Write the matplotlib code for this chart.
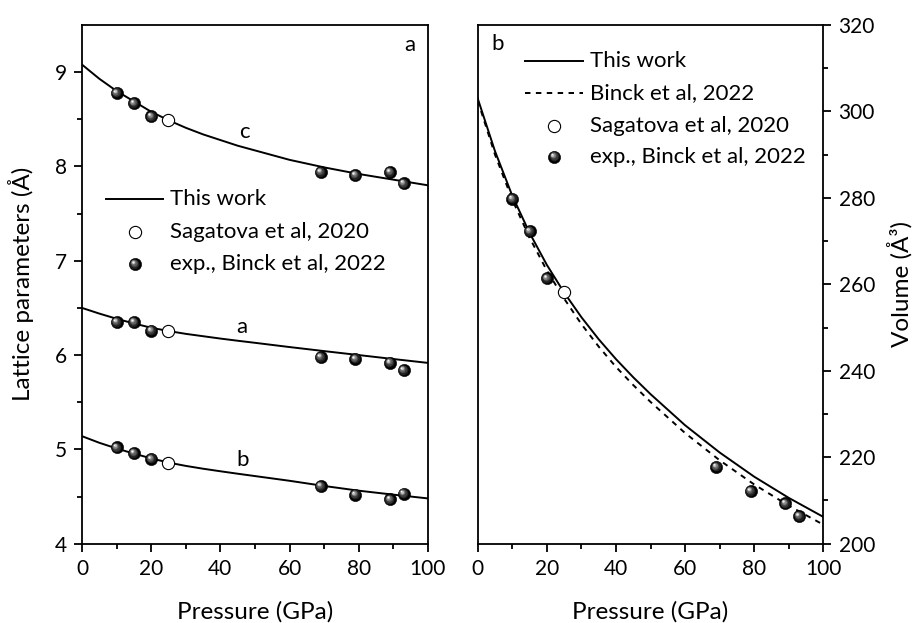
import numpy as np
import matplotlib
matplotlib.use("Agg")
import matplotlib.pyplot as plt
from matplotlib.transforms import offset_copy

plt.rcParams['font.family'] = ['Lato', 'DejaVu Sans']

# calculated curves (this work), pressure grid in GPa
p_calc = [0, 5, 10, 15, 20, 25, 30, 35, 40, 45, 50, 60, 70, 80, 90, 100]
c_calc = [9.08, 8.93, 8.80, 8.69, 8.58, 8.49, 8.41, 8.34, 8.28, 8.22, 8.17, 8.07, 7.99, 7.92, 7.86, 7.80]
a_calc = [6.50, 6.44, 6.385, 6.335, 6.29, 6.255, 6.225, 6.20, 6.175, 6.152, 6.13, 6.085, 6.042, 6.00, 5.958, 5.917]
b_calc = [5.14, 5.07, 5.01, 4.955, 4.905, 4.86, 4.825, 4.795, 4.768, 4.742, 4.717, 4.667, 4.612, 4.562, 4.52, 4.48]
v_calc = [303.0, 290.8, 280.5, 271.9, 264.5, 258.1, 252.4, 247.3, 242.7, 238.5, 234.6, 227.4, 221.1, 215.5, 210.6, 206.2]
# EoS fit from Binck et al, 2022
v_binck = [302.5, 290.0, 279.6, 270.8, 263.2, 256.7, 250.8, 245.6, 240.9, 236.7, 232.8, 225.6, 219.3, 213.7, 208.8, 204.4]

# experiment, Binck et al, 2022
p_exp = [10, 15, 20, 69, 79, 89, 93]
c_exp = [8.78, 8.67, 8.53, 7.94, 7.91, 7.94, 7.82]
a_exp = [6.35, 6.35, 6.26, 5.98, 5.96, 5.92, 5.84]
b_exp = [5.02, 4.96, 4.90, 4.61, 4.52, 4.47, 4.53]
v_exp = [279.8, 272.3, 261.4, 217.8, 212.2, 209.3, 206.4]

# Sagatova et al, 2020
p_sag = [25]
c_sag = [8.49]
a_sag = [6.26]
b_sag = [4.86]
v_sag = [258.2]

MS = 8.8
LW = 1.4
FS_TICK = 15
FS_TEXT = 16
FS_LABEL = 17.5


def spheres(ax, x, y, transform=None, ms=MS, z=5):
    # black ball with a soft highlight toward the upper left
    base = ax.transData if transform is None else transform
    ax.plot(x, y, 'o', ms=ms, mfc='black', mec='black', mew=0.4, ls='none',
            transform=base, zorder=z, clip_on=False)
    layers = [(0.80, '#1e1e1e', 0.3), (0.64, '#3a3a3a', 0.6), (0.50, '#5e5e5e', 0.9),
              (0.36, '#8c8c8c', 1.2), (0.24, '#c4c4c4', 1.45), (0.13, '#f6f6f6', 1.65)]
    for frac, shade, off in layers:
        tr = offset_copy(base, fig=ax.figure, x=-off, y=off, units='points')
        ax.plot(x, y, 'o', ms=ms * frac, mfc=shade, mec='none', ls='none',
                transform=tr, zorder=z + 0.1, clip_on=False)


def open_circles(ax, x, y, transform=None, z=6):
    base = ax.transData if transform is None else transform
    ax.plot(x, y, 'o', ms=MS, mfc='white', mec='black', mew=0.8, ls='none',
            transform=base, zorder=z, clip_on=False)


def style_axis(ax, side):
    for s in ax.spines.values():
        s.set_linewidth(1.3)
    ax.tick_params(which='both', direction='out', width=1.3, labelsize=FS_TICK, pad=5,
                   top=False, left=(side == 'left'), right=(side == 'right'),
                   labelleft=(side == 'left'), labelright=(side == 'right'))
    ax.tick_params(which='major', length=6)
    ax.tick_params(which='minor', length=3.3)
    ax.set_xlim(0, 100)
    ax.set_xticks(np.arange(0, 101, 20))
    ax.set_xticks(np.arange(10, 100, 20), minor=True)
    ax.set_xlabel('Pressure (GPa)', fontsize=FS_LABEL, labelpad=16)


fig = plt.figure(figsize=(9.15, 6.23), dpi=100)
ax1 = fig.add_axes([0.0896, 0.1273, 0.3781, 0.8326])
ax2 = fig.add_axes([0.5221, 0.1273, 0.3777, 0.8326])

# ---- panel a: lattice parameters ----
for calc, exp, sag in [(c_calc, c_exp, c_sag), (a_calc, a_exp, a_sag), (b_calc, b_exp, b_sag)]:
    ax1.plot(p_calc, calc, color='black', lw=LW, zorder=3)
    spheres(ax1, p_exp, exp)
    open_circles(ax1, p_sag, sag)

ax1.text(47, 8.37, 'c', fontsize=FS_TEXT, ha='center', va='center')
ax1.text(46.3, 6.30, 'a', fontsize=FS_TEXT, ha='center', va='center')
ax1.text(46.3, 4.89, 'b', fontsize=FS_TEXT, ha='center', va='center')
ax1.text(0.948, 0.962, 'a', transform=ax1.transAxes, fontsize=FS_TEXT, ha='center', va='center')

style_axis(ax1, 'left')
ax1.set_ylim(4, 9.5)
ax1.set_yticks([4, 5, 6, 7, 8, 9])
ax1.set_yticks([4.5, 5.5, 6.5, 7.5, 8.5], minor=True)
ax1.set_ylabel('Lattice parameters (Å)', fontsize=FS_LABEL, labelpad=15)

# legend drawn by hand
ta = ax1.transAxes
ax1.plot([0.069, 0.234], [0.664, 0.664], color='black', lw=LW, transform=ta)
open_circles(ax1, [0.153], [0.601], transform=ta)
spheres(ax1, [0.153], [0.539], transform=ta)
for y, s in [(0.664, 'This work'), (0.601, 'Sagatova et al, 2020'), (0.539, 'exp., Binck et al, 2022')]:
    ax1.text(0.254, y, s, transform=ta, fontsize=FS_TEXT, va='center', ha='left')

# ---- panel b: volume ----
ax2.plot(p_calc, v_calc, color='black', lw=LW, zorder=3)
ax2.plot(p_calc, v_binck, color='black', lw=LW, dashes=(2.8, 2.8), zorder=2)
spheres(ax2, p_exp, v_exp)
open_circles(ax2, p_sag, v_sag)
ax2.text(0.057, 0.963, 'b', transform=ax2.transAxes, fontsize=FS_TEXT, ha='center', va='center')

style_axis(ax2, 'right')
ax2.set_ylim(200, 320)
ax2.set_yticks(np.arange(200, 321, 20))
ax2.set_yticks(np.arange(210, 320, 20), minor=True)
ax2.yaxis.set_label_position('right')
ax2.set_ylabel('Volume (Å³)', fontsize=FS_LABEL, labelpad=9)

tb = ax2.transAxes
ax2.plot([0.137, 0.306], [0.931, 0.931], color='black', lw=LW, transform=tb)
ax2.plot([0.137, 0.306], [0.869, 0.869], color='black', lw=LW, dashes=(2.8, 2.8), transform=tb)
open_circles(ax2, [0.222], [0.805], transform=tb)
spheres(ax2, [0.222], [0.746], transform=tb)
for y, s in [(0.931, 'This work'), (0.869, 'Binck et al, 2022'),
             (0.805, 'Sagatova et al, 2020'), (0.746, 'exp., Binck et al, 2022')]:
    ax2.text(0.325, y, s, transform=tb, fontsize=FS_TEXT, va='center', ha='left')

fig.savefig('out.png', dpi=100)
